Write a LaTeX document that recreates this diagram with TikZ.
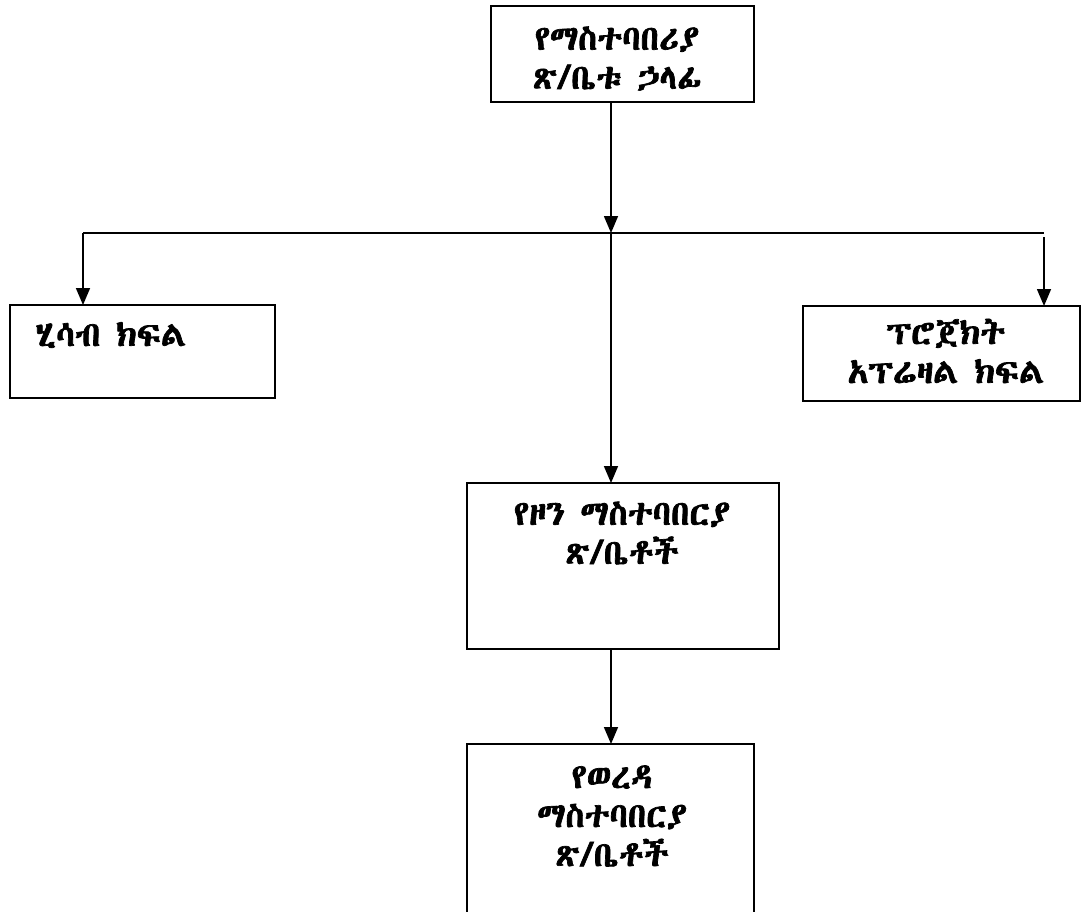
\documentclass[tikz,border=0pt]{standalone}
\usepackage{fontspec}
\usetikzlibrary{arrows.meta}
\newfontfamily\eth[FakeBold=2]{Abyssinica SIL}
\begin{document}
\begin{tikzpicture}[x=1pt,y=-1pt,
  box/.style={draw, line width=2pt, inner sep=0pt, outer sep=0pt},
  txt/.style={font={\eth\fontsize{34.5}{39}\selectfont}, align=center, inner sep=0pt},
  conn/.style={line width=1.6pt},
  arr/.style={line width=1.6pt, -{Triangle[length=17pt,width=14pt]}}]
\useasboundingbox (0,0) rectangle (1081,911);
% boxes
\node[box, minimum width=263pt, minimum height=96pt] (top) at (622.5,54) {};
\node[box, minimum width=265pt, minimum height=93pt] (left) at (142.5,351.5) {};
\node[box, minimum width=277pt, minimum height=95pt] (right) at (941.5,353.5) {};
\node[box, minimum width=312pt, minimum height=166pt] (mid) at (623,566) {};
\node[box, minimum width=287pt, minimum height=216pt] (wor) at (610.5,852) {};
% texts
\node[txt] (topT) at (617,58.5) {የማስተባበሪያ\\ጽ/ቤቱ ኃላፊ};
\node[txt, anchor=west] (leftT) at (35,335) {ሂሳብ ክፍል};
\node[txt] (rightT) at (946,351) {ፕሮጀክት\\አፕሬዛል ክፍል};
\node[txt] (midT) at (622,533) {የዞን ማስተባበርያ\\ጽ/ቤቶች};
\node[txt] (worT) at (612,816) {የወረዳ\\ማስተባበርያ\\ጽ/ቤቶች};
% connectors
\coordinate (j) at (611,233);
\coordinate (jl) at (83,233);
\coordinate (jr) at (1044,233);
\coordinate (jr2) at (1044,237);
\draw[arr] (j |- top.south) -- (j);
\draw[conn] (jl) -- (jr);
\draw[arr] (jl) -- (jl |- left.north);
\draw[arr] (jr2) -- (jr |- right.north);
\draw[arr] (j) -- (j |- mid.north);
\draw[arr] (j |- mid.south) -- (j |- wor.north);
\end{tikzpicture}
\end{document}
